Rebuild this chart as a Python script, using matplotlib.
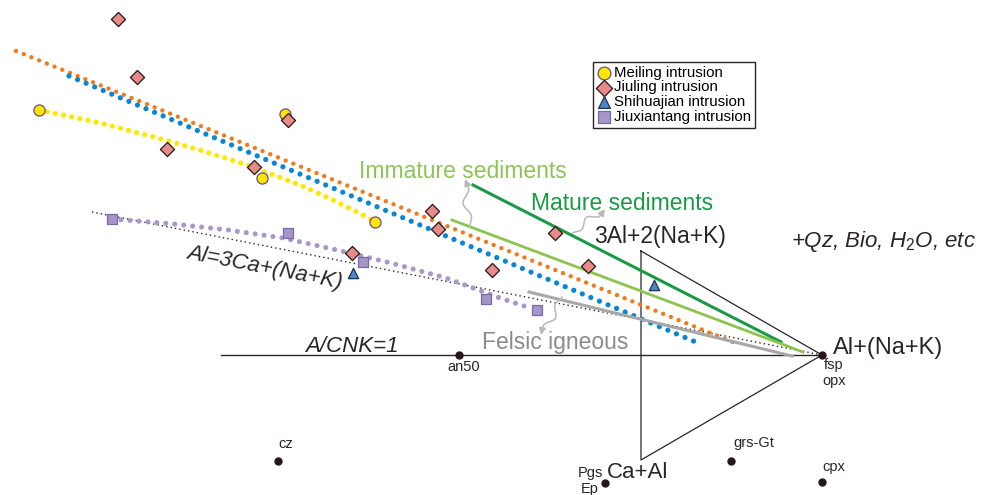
import numpy as np
import matplotlib.pyplot as plt

plt.rcParams['font.family'] = ['Liberation Sans', 'DejaVu Sans']
plt.rcParams['mathtext.fontset'] = 'custom'
plt.rcParams['mathtext.rm'] = 'Liberation Sans'
plt.rcParams['mathtext.it'] = 'Liberation Sans:italic'

# diagram coordinates (x to the right, y downward, apex at Al+(Na+K))
meiling_x = [39, 285, 262, 375]
meiling_y = [110, 114, 178, 222]
jiuling_x = [118, 137, 167, 254, 288, 432, 438, 352, 492, 555, 588]
jiuling_y = [19, 77, 149, 167, 120, 211, 229, 253, 270, 233, 266]
shihua_x = [353, 654]
shihua_y = [273, 285]
jiuxian_x = [112, 288, 363, 486, 537]
jiuxian_y = [219, 233, 262, 299, 310]

# dotted trends
orange_x = [16, 735]
orange_y = [51, 343]
blue_x = [69, 698]
blue_y = [76, 343]
yellow_x = [39, 100, 150, 200, 250, 300, 333, 367, 375]
yellow_y = [110, 123, 136, 150, 166, 185, 200, 217, 222]
purple_x = [112, 174, 228, 283, 337, 391, 446, 500, 527]
purple_y = [219, 224, 230, 238, 250, 263, 278, 298, 307]

# source fields
mature_x = [473, 781]
mature_y = [185, 342]
immature_x = [452, 803]
immature_y = [220, 352]
felsic_x = [529, 792]
felsic_y = [292, 356]

# reference lines
tri_x = [641, 822, 641, 641]
tri_y = [251, 355, 460, 251]
acnk_x = [221, 822]
acnk_y = [355, 355]
al3_x = [92, 822]
al3_y = [212, 355]

# mineral points
min_x = [822, 459, 278, 605, 731, 822]
min_y = [355, 355, 461, 483, 461, 482]
min_labels = ['fsp\nopx', 'an50', 'cz', 'Pgs\nEp', 'grs-Gt', 'cpx']
lab_x = [834, 464, 286, 590, 754, 834]
lab_y = [373, 367, 444, 481, 443, 467]

dark = '#2b2526'
grey_arrow = '#b8b8b8'

fig = plt.figure(figsize=(9.86, 4.95), dpi=100)
ax = fig.add_axes([0, 0, 1, 1])
ax.set_xlim(0, 986)
ax.set_ylim(495, 0)
ax.axis('off')


def dotted(x, y, color, size, gap):
    ax.plot(x, y, color=color, lw=size, linestyle=(0, (0.001, gap)),
            dash_capstyle='round', solid_capstyle='round', zorder=3)


dotted(orange_x, orange_y, '#f07a1e', 3.2, 1.87)
dotted(blue_x, blue_y, '#0a86d2', 3.8, 1.76)
dotted(yellow_x, yellow_y, '#ffe800', 3.8, 1.58)
dotted(purple_x, purple_y, '#a59acb', 3.7, 1.75)

# reference lines
ax.plot(acnk_x, acnk_y, color=dark, lw=1.0, zorder=2)
ax.plot(tri_x, tri_y, color=dark, lw=0.9, zorder=2)
ax.plot(al3_x, al3_y, color=dark, lw=1.0, linestyle=(0, (1, 2.2)), zorder=2)

# source fields
ax.plot(mature_x, mature_y, color='#1a9a46', lw=2.2, zorder=4)
ax.plot(immature_x, immature_y, color='#8cc44f', lw=2.0, zorder=4)
ax.plot(felsic_x, felsic_y, color='#a8a8a8', lw=2.2, zorder=4)


def wavy_arrow(x0, y0, x1, y1, amp=4.5, waves=1.5):
    t = np.linspace(0, 1, 80)
    dx, dy = x1 - x0, y1 - y0
    L = np.hypot(dx, dy)
    nx, ny = -dy / L, dx / L
    off = amp * np.sin(2 * np.pi * waves * t) * np.sin(np.pi * t)
    xs = x0 + dx * t + nx * off
    ys = y0 + dy * t + ny * off
    ax.plot(xs[:-6], ys[:-6], color=grey_arrow, lw=1.1, zorder=4)
    ax.annotate('', xy=(x1, y1), xytext=(xs[-12], ys[-12]),
                arrowprops=dict(arrowstyle='-|>', color=grey_arrow, lw=1.1,
                                mutation_scale=10, shrinkA=0, shrinkB=0),
                zorder=4)


wavy_arrow(470, 227, 465, 179)
wavy_arrow(573, 233, 605, 209)
wavy_arrow(562, 297, 541, 335)

# mineral points
ax.plot(min_x, min_y, 'o', color='#231815', ms=5, zorder=5)
for lx, ly, lab in zip(lab_x, lab_y, min_labels):
    ax.text(lx, ly, lab, fontsize=10.5, color=dark, ha='center', va='center',
            linespacing=1.15)

# samples
ax.scatter(meiling_x, meiling_y, s=64, marker='o', facecolor='#ffe600',
           edgecolor='#6a4c93', linewidth=0.9, zorder=6, label='Meiling intrusion')
ax.scatter(jiuling_x, jiuling_y, s=52, marker='D', facecolor='#e88a8a',
           edgecolor='#231815', linewidth=0.9, zorder=7, label='Jiuling intrusion')
ax.scatter(shihua_x, shihua_y, s=55, marker='^', facecolor='#4a86c8',
           edgecolor='#1f3150', linewidth=0.9, zorder=6, label='Shihuajian intrusion')
ax.scatter(jiuxian_x, jiuxian_y, s=48, marker='s', facecolor='#a595c8',
           edgecolor='#7a68a8', linewidth=0.9, zorder=6, label='Jiuxiantang intrusion')

# labels
ax.text(463, 171, 'Immature sediments', fontsize=16.5, color='#8cc45a', ha='center', va='center')
ax.text(622, 203, 'Mature sediments', fontsize=16.5, color='#1a9a46', ha='center', va='center')
ax.text(660, 237, '3Al+2(Na+K)', fontsize=16.5, color=dark, ha='center', va='center')
ax.text(883, 241, '+Qz, Bio, H$_2$O, etc', fontsize=16, style='italic', color=dark,
        ha='center', va='center')
ax.text(833, 348, 'Al+(Na+K)', fontsize=17, color=dark, ha='left', va='center')
ax.text(555, 343, 'Felsic igneous', fontsize=16.5, color='#8c8c8c', ha='center', va='center')
ax.text(352, 346, 'A/CNK=1', fontsize=16, style='italic', color=dark, ha='center', va='center')
ax.text(265, 268, 'Al=3Ca+(Na+K)', fontsize=16, style='italic', color=dark,
        ha='center', va='center', rotation=-11, rotation_mode='anchor')
ax.text(607, 473, 'Ca+Al', fontsize=16, color=dark, ha='left', va='center')

leg = ax.legend(loc='upper left', bbox_to_anchor=(593 / 986, 1 - 62 / 495),
                fontsize=10.8, frameon=True, fancybox=False, edgecolor=dark,
                framealpha=1, handletextpad=0.25, labelspacing=0.05,
                borderpad=0.25, handlelength=0.9, borderaxespad=0,
                markerscale=1.15)
leg.get_frame().set_linewidth(1.0)

fig.savefig('out.png', dpi=100)
